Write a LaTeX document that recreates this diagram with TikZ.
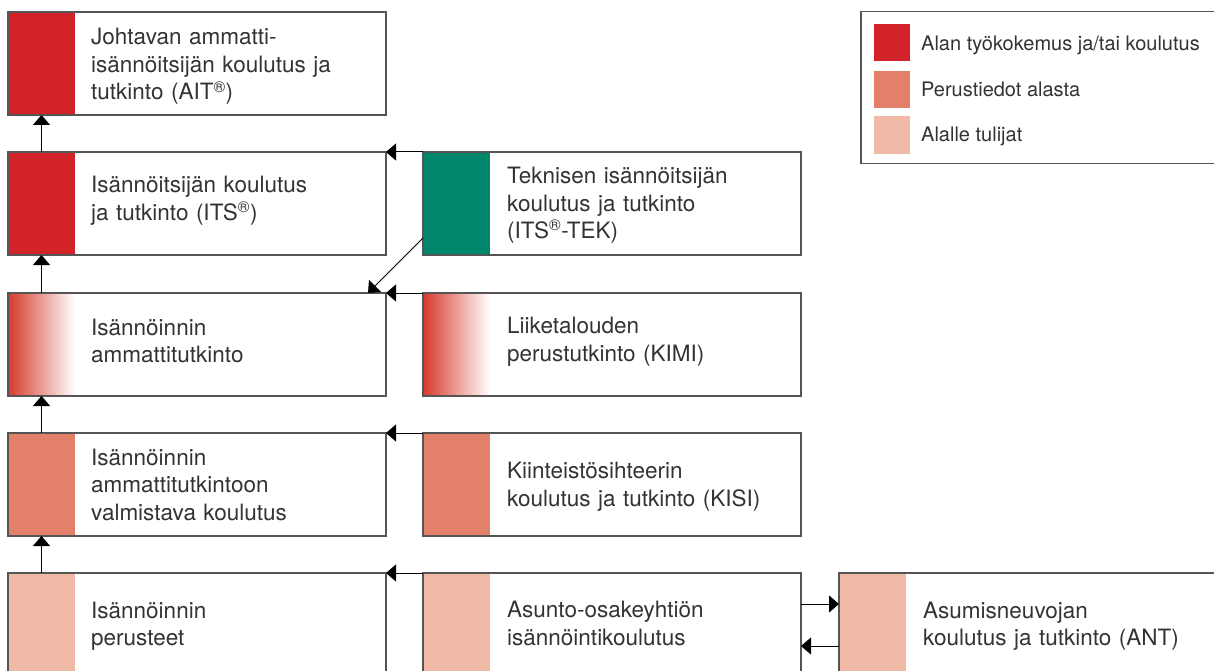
\documentclass[tikz,border=0pt]{standalone}
\usepackage{fontspec}
\setmainfont{TeX Gyre Heros}
\usetikzlibrary{arrows.meta}
\definecolor{cdark}{HTML}{D2232A}
\definecolor{cmed}{HTML}{E2806A}
\definecolor{clight}{HTML}{F1BAA6}
\definecolor{cteal}{HTML}{00866B}
\definecolor{cgrad}{HTML}{D63A2C}
\definecolor{cgradmid}{HTML}{E9A28E}
\definecolor{cborder}{HTML}{555555}
\definecolor{ctext}{HTML}{333333}
\tikzset{
  box/.style={draw=cborder, line width=1.2pt, rectangle, inner sep=0pt, outer sep=0pt,
    minimum width=378pt, minimum height=103pt, anchor=north west},
  strip/.style={path picture={\fill[#1] (path picture bounding box.north west) rectangle ([xshift=67pt]path picture bounding box.south west);}},
  gshade/.style={left color=cgrad, middle color=cgradmid, right color=white},
  border/.style={draw=cborder, line width=1.2pt},
  txt/.style={anchor=base west, inner sep=0pt, text width=300pt, align=left,
    font=\fontsize{22.5}{27.5}\selectfont, text=ctext},
  legtxt/.style={anchor=base west, inner sep=0pt, font=\fontsize{20}{24}\selectfont, text=ctext},
  swatch/.style={rectangle, inner sep=0pt, outer sep=0pt, minimum width=36pt, minimum height=37.5pt, anchor=north west, fill=#1},
  arr/.style={-{Triangle[length=10pt,width=17pt]}, line width=1pt, draw=black},
}
\begin{document}
\begin{tikzpicture}[x=1pt,y=-1pt]
\useasboundingbox (0,0) rectangle (1214,671);
\clip (0,0) rectangle (1214,671);
\fill[white] (0,0) rectangle (1214,671);

% column 1
\node[box, strip=cdark] (b1) at (8,12) {};
\node[box, strip=cdark] (b2) at (8,152) {};
\node[box] (b3) at (8,293) {};
\node[box, strip=cmed] (b4) at (8,433) {};
\node[box, strip=clight] (b5) at (8,573) {};
% column 2
\node[box, strip=cteal] (c2) at (423,152) {};
\node[box] (c3) at (423,293) {};
\node[box, strip=cmed] (c4) at (423,433) {};
\node[box, strip=clight] (c5) at (423,573) {};
% column 3
\node[box, strip=clight] (d5) at (839,573) {};

% gradient strips
\shade[gshade] (b3.north west) rectangle ([xshift=67pt]b3.south west);
\draw[border] (b3.north west) rectangle (b3.south east);
\shade[gshade] (c3.north west) rectangle ([xshift=67pt]c3.south west);
\draw[border] (c3.north west) rectangle (c3.south east);

% texts
\node[txt] (t1) at (91,45) {Johtavan ammatti-\\isännöitsijän koulutus ja\\tutkinto (AIT\textsuperscript{®})};
\node[txt] (t2) at (91,193) {Isännöitsijän koulutus\\ja tutkinto (ITS\textsuperscript{®})};
\node[txt] (t3) at (91,335) {Isännöinnin\\ammattitutkinto};
\node[txt] (t4) at (91,465) {Isännöinnin\\ammattitutkintoon\\valmistava koulutus};
\node[txt] (t5) at (91,618) {Isännöinnin\\perusteet};
\node[txt] (u2) at (507,183.5) {Teknisen isännöitsijän\\koulutus ja tutkinto\\(ITS\textsuperscript{®}-TEK)};
\node[txt] (u3) at (507,333.5) {Liiketalouden\\perustutkinto (KIMI)};
\node[txt] (u4) at (507,478.5) {Kiinteistösihteerin\\koulutus ja tutkinto (KISI)};
\node[txt] (u5) at (507,617.5) {Asunto-osakeyhtiön\\isännöintikoulutus};
\node[txt] (v5) at (923,618.3) {Asumisneuvojan\\koulutus ja tutkinto (ANT)};

% arrows
\draw[arr] ([xshift=33.5pt]b2.north west) -- ([xshift=33.5pt]b1.south west);
\draw[arr] ([xshift=33.5pt]b3.north west) -- ([xshift=33.5pt]b2.south west);
\draw[arr] ([xshift=33.5pt]b4.north west) -- ([xshift=33.5pt]b3.south west);
\draw[arr] ([xshift=33.5pt]b5.north west) -- ([xshift=33.5pt]b4.south west);
\draw[arr] (c2.north west) -- (b2.north east);
\draw[arr] ([yshift=17pt]c2.south west) -- ([xshift=-18pt]b3.north east);
\draw[arr] (c3.north west) -- (b3.north east);
\draw[arr] (c4.north west) -- (b4.north east);
\draw[arr] (c5.north west) -- (b5.north east);
\draw[arr] ([yshift=-31pt]c5.north east) -- ([yshift=-31pt]d5.north west);
\draw[arr] ([yshift=-73pt]d5.north west) -- ([yshift=-73pt]c5.north east);

% legend
\node[draw=cborder, line width=1.2pt, rectangle, inner sep=0pt, outer sep=0pt,
  minimum width=370pt, minimum height=152pt, anchor=north west] (leg) at (861,11.5) {};
\node[swatch=cdark] (s1) at (874,24) {};
\node[swatch=cmed] (s2) at (874,71) {};
\node[swatch=clight] (s3) at (874,116.5) {};
\node[legtxt] (l1) at (921,50.7) {Alan työkokemus ja/tai koulutus};
\node[legtxt] (l2) at (921,96.7) {Perustiedot alasta};
\node[legtxt] (l3) at (921,141.7) {Alalle tulijat};
\end{tikzpicture}
\end{document}
